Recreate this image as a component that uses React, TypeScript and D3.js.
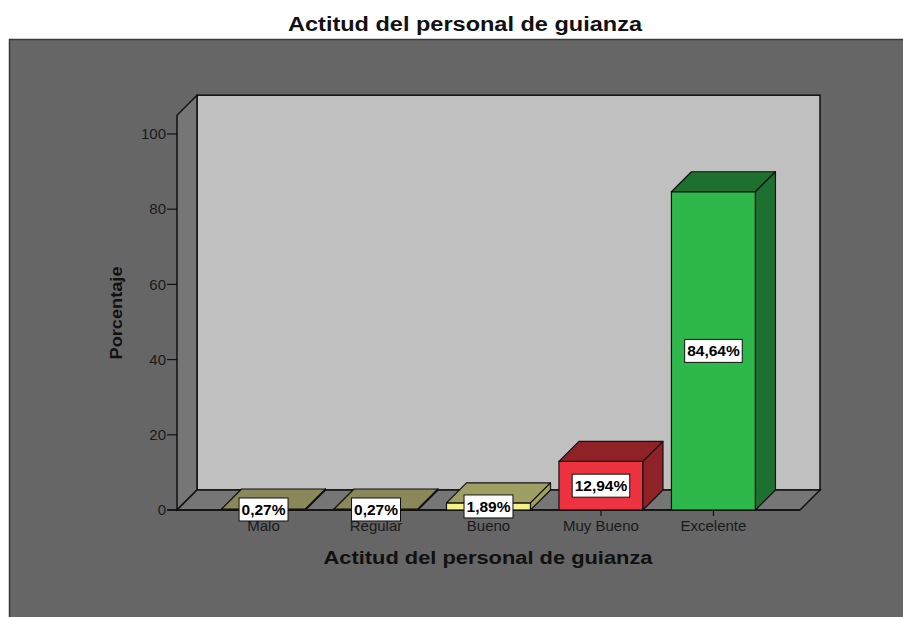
import React, { useEffect, useRef } from 'react'
import * as d3 from 'd3'

// values
const categories = ['Malo', 'Regular', 'Bueno', 'Muy Bueno', 'Excelente']
const percentages = [0.27, 0.27, 1.89, 12.94, 84.64]
const valueLabels = ['0,27%', '0,27%', '1,89%', '12,94%', '84,64%']
const yTicks = [0, 20, 40, 60, 80, 100]
const frontColors = ['#a9a672', '#a9a672', '#f5f28c', '#ee3340', '#2eb84b']
const darkColors = ['#8a875a', '#8a875a', '#a09f63', '#8f2226', '#1e7030']

const App = () => {
    const ref = useRef<SVGSVGElement>(null)

    useEffect(() => {
        const svg = d3.select(ref.current)
        svg.selectAll('*').remove()

        const font = '"Liberation Sans", Arial, sans-serif'
        const dx = 20, dy = 20 // 3d depth offset
        const left = 177, right = 800, bottom = 510

        var y = d3.scaleLinear().domain([0, 100]).range([bottom, 134])
        var x = d3.scaleBand().domain(categories).range([left, right])
            .paddingInner(0.253).paddingOuter(0.396)

        // gray panel
        svg.append('rect')
            .attr('x', 9.5).attr('y', 39.5).attr('width', 905).attr('height', 600)
            .attr('fill', '#666666').attr('stroke', '#3a3a3a').attr('stroke-width', 1.5)

        svg.append('text')
            .attr('x', 465).attr('y', 31)
            .attr('text-anchor', 'middle')
            .attr('font-family', font).attr('font-weight', 'bold').attr('font-size', 20)
            .attr('textLength', 354).attr('lengthAdjust', 'spacingAndGlyphs')
            .attr('fill', '#111')
            .text('Actitud del personal de guianza')

        const topY = y(105)
        const stroke = '#111'

        // back wall
        svg.append('rect')
            .attr('x', left + dx).attr('y', topY - dy)
            .attr('width', right - left).attr('height', bottom - topY)
            .attr('fill', '#c0c0c0').attr('stroke', stroke).attr('stroke-width', 1.5)

        // side wall
        svg.append('path')
            .attr('d', `M${left},${bottom}L${left},${topY}L${left + dx},${topY - dy}L${left + dx},${bottom - dy}Z`)
            .attr('fill', '#767676').attr('stroke', stroke).attr('stroke-width', 1.5)

        // floor
        svg.append('path')
            .attr('d', `M${left},${bottom}L${left + dx},${bottom - dy}L${right + dx},${bottom - dy}L${right},${bottom}Z`)
            .attr('fill', '#767676').attr('stroke', stroke).attr('stroke-width', 1.5)

        // y axis
        const yAxis = svg.append('g')
        yTicks.forEach(t => {
            yAxis.append('line')
                .attr('x1', left - 10).attr('x2', left)
                .attr('y1', y(t)).attr('y2', y(t))
                .attr('stroke', stroke).attr('stroke-width', 1.2)
            yAxis.append('text')
                .attr('x', left - 11).attr('y', y(t)).attr('dy', '0.35em')
                .attr('text-anchor', 'end')
                .attr('font-family', font).attr('font-size', 15).attr('fill', '#1a1a1a')
                .text(t)
        })

        svg.append('text')
            .attr('transform', 'translate(122,313) rotate(-90)')
            .attr('text-anchor', 'middle')
            .attr('font-family', font).attr('font-weight', 'bold').attr('font-size', 16)
            .attr('textLength', 93).attr('lengthAdjust', 'spacingAndGlyphs')
            .attr('fill', '#111')
            .text('Porcentaje')

        // x axis ticks & labels
        categories.forEach(c => {
            const cx = x(c)! + x.bandwidth() / 2
            svg.append('line')
                .attr('x1', cx).attr('x2', cx).attr('y1', bottom).attr('y2', bottom + 6)
                .attr('stroke', stroke).attr('stroke-width', 1.2)
            svg.append('text')
                .attr('x', cx).attr('y', 531)
                .attr('text-anchor', 'middle')
                .attr('font-family', font).attr('font-size', 15).attr('fill', '#1a1a1a')
                .text(c)
        })

        svg.append('line')
            .attr('x1', left - 10).attr('x2', right)
            .attr('y1', bottom).attr('y2', bottom)
            .attr('stroke', stroke).attr('stroke-width', 1.5)

        svg.append('text')
            .attr('x', 488).attr('y', 564)
            .attr('text-anchor', 'middle')
            .attr('font-family', font).attr('font-weight', 'bold').attr('font-size', 18)
            .attr('textLength', 329).attr('lengthAdjust', 'spacingAndGlyphs')
            .attr('fill', '#111')
            .text('Actitud del personal de guianza')

        // 3d bars
        categories.forEach((c, i) => {
            const x0 = x(c)!, x1 = x0 + x.bandwidth()
            const yt = y(percentages[i])
            const g = svg.append('g')
            g.append('rect')
                .attr('x', x0).attr('y', yt).attr('width', x1 - x0).attr('height', bottom - yt)
                .attr('fill', frontColors[i]).attr('stroke', stroke).attr('stroke-width', 1.2)
            g.append('path')
                .attr('d', `M${x0},${yt}L${x0 + dx},${yt - dy}L${x1 + dx},${yt - dy}L${x1},${yt}Z`)
                .attr('fill', darkColors[i]).attr('stroke', stroke).attr('stroke-width', 1.2)
                .attr('stroke-linejoin', 'round')
            g.append('path')
                .attr('d', `M${x1},${yt}L${x1 + dx},${yt - dy}L${x1 + dx},${bottom - dy}L${x1},${bottom}Z`)
                .attr('fill', darkColors[i]).attr('stroke', stroke).attr('stroke-width', 1.2)
                .attr('stroke-linejoin', 'round')
        })

        // value labels in the middle of the front face
        categories.forEach((c, i) => {
            const cx = x(c)! + x.bandwidth() / 2
            const cy = (y(percentages[i]) + bottom) / 2
            const lg = svg.append('g')
            const box = lg.append('rect')
            const txt = lg.append('text')
                .attr('x', cx).attr('y', cy).attr('dy', '0.36em')
                .attr('text-anchor', 'middle')
                .attr('font-family', font).attr('font-weight', 'bold').attr('font-size', 15.5)
                .attr('fill', '#000')
                .text(valueLabels[i])
            const w = (txt.node() as SVGTextElement).getComputedTextLength() + 5
            box.attr('x', cx - w / 2).attr('y', cy - 11.5).attr('width', w).attr('height', 23)
                .attr('fill', '#fff').attr('stroke', '#111').attr('stroke-width', 1)
        })
    }, [])

    return (
        <svg ref={ref} width={903} height={617}
            style={{ position: 'absolute', left: 0, top: 0, background: '#fff' }} />
    )
}

export default App
